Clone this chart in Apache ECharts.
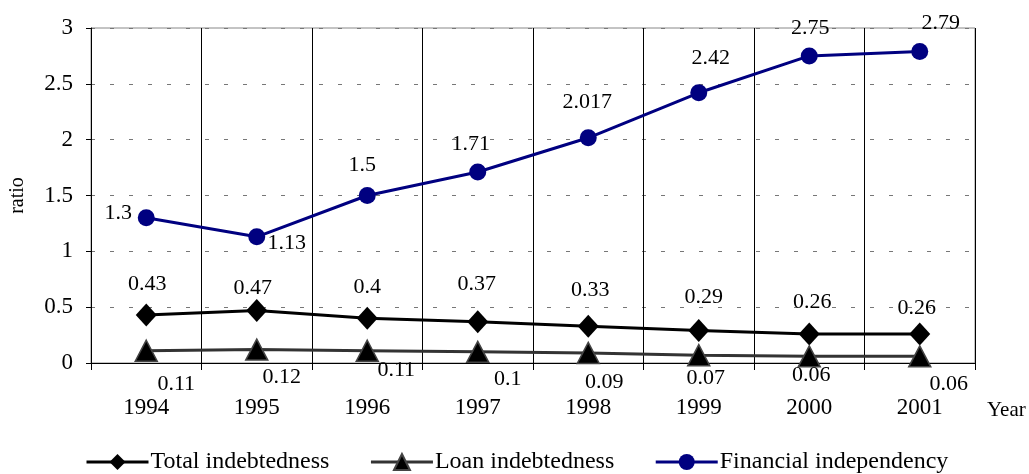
<!DOCTYPE html>
<html><head><meta charset="utf-8">
<script src="https://cdn.jsdelivr.net/npm/echarts@6/dist/echarts.min.js"></script>
<style>html,body{margin:0;padding:0;background:#fff}#c{width:1029px;height:474px}</style>
</head><body><div id="c"></div>
<script>
const years = ['1994','1995','1996','1997','1998','1999','2000','2001'];
const totalIndebtedness = [0.43,0.47,0.4,0.37,0.33,0.29,0.26,0.26];
const loanIndebtedness = [0.11,0.12,0.11,0.1,0.09,0.07,0.06,0.06];
const financialIndependency = [1.3,1.13,1.5,1.71,2.017,2.42,2.75,2.79];

// label offsets (style only)
const finOff = [[-28,-5],[30,6],[-5,-30],[-7,-28],[-1,-36],[12,-35],[1,-28],[21,-28]];
const totOff = [[1,-31],[-4,-22],[0,-31],[-1,-37],[2,-36],[5,-33],[3,-32],[-3,-26]];
const loanOff = [[30,34],[25,28],[29,20],[30,27],[16,29],[7,23],[2,19],[29,28]];

const font = '"Liberation Serif", "Times New Roman", serif';
function mk(vals, offs){
  return vals.map((v,i)=>({value:v,label:{offset:offs[i]}}));
}
const chart = echarts.init(document.getElementById('c'));
chart.setOption({
  animation:false,
  textStyle:{fontFamily:font},
  grid:{left:91,right:54,top:28,bottom:111,show:true,borderColor:'#888',borderWidth:1,outerBoundsMode:'none'},
  legend:{
    top:445, left:80, itemGap:40, itemWidth:62, itemHeight:20,
    lineStyle:{width:3},
    textStyle:{fontFamily:font,fontSize:24,color:'#000',padding:[0,0,0,-3]},
    data:['Total indebtedness','Loan indebtedness','Financial independency']
  },
  xAxis:{
    type:'category', data:years, boundaryGap:true,
    name:'Year', nameLocation:'end', nameGap:12,
    nameTextStyle:{fontFamily:font,fontSize:21,color:'#000',verticalAlign:'top',padding:[37,0,0,0]},
    axisLine:{lineStyle:{color:'#000',width:1}},
    axisTick:{show:true,length:7,lineStyle:{color:'#000'}},
    axisLabel:{fontFamily:font,fontSize:23,color:'#000',margin:33},
    splitLine:{show:true,lineStyle:{color:'#000',width:1}}
  },
  yAxis:{
    type:'value', min:0, max:3, interval:0.5,
    name:'ratio', nameLocation:'middle', nameRotate:90, nameGap:63,
    nameTextStyle:{fontFamily:font,fontSize:20,color:'#000'},
    axisLine:{show:true,lineStyle:{color:'#000',width:1}},
    axisTick:{show:true,length:5,lineStyle:{color:'#000'}},
    axisLabel:{fontFamily:font,fontSize:23,color:'#000',margin:18},
    splitLine:{show:true,lineStyle:{color:'#777',type:[4,15],width:1}}
  },
  series:[
    {name:'Total indebtedness',type:'line',data:mk(totalIndebtedness,totOff),
     symbol:'diamond',symbolSize:[21,23],
     itemStyle:{color:'#000'},lineStyle:{color:'#000',width:3},
     label:{show:true,position:'inside',fontFamily:font,fontSize:22,color:'#000'}},
    {name:'Loan indebtedness',type:'line',data:mk(loanIndebtedness,loanOff),
     symbol:'triangle',symbolSize:[22,21],
     itemStyle:{color:'#000',borderColor:'#444',borderWidth:1.5},lineStyle:{color:'#333',width:3},
     label:{show:true,position:'inside',fontFamily:font,fontSize:22,color:'#000'}},
    {name:'Financial independency',type:'line',data:mk(financialIndependency,finOff),
     symbol:'circle',symbolSize:17,
     itemStyle:{color:'#000080'},lineStyle:{color:'#000080',width:3},
     label:{show:true,position:'inside',fontFamily:font,fontSize:22,color:'#000'}}
  ]
});
</script></body></html>
